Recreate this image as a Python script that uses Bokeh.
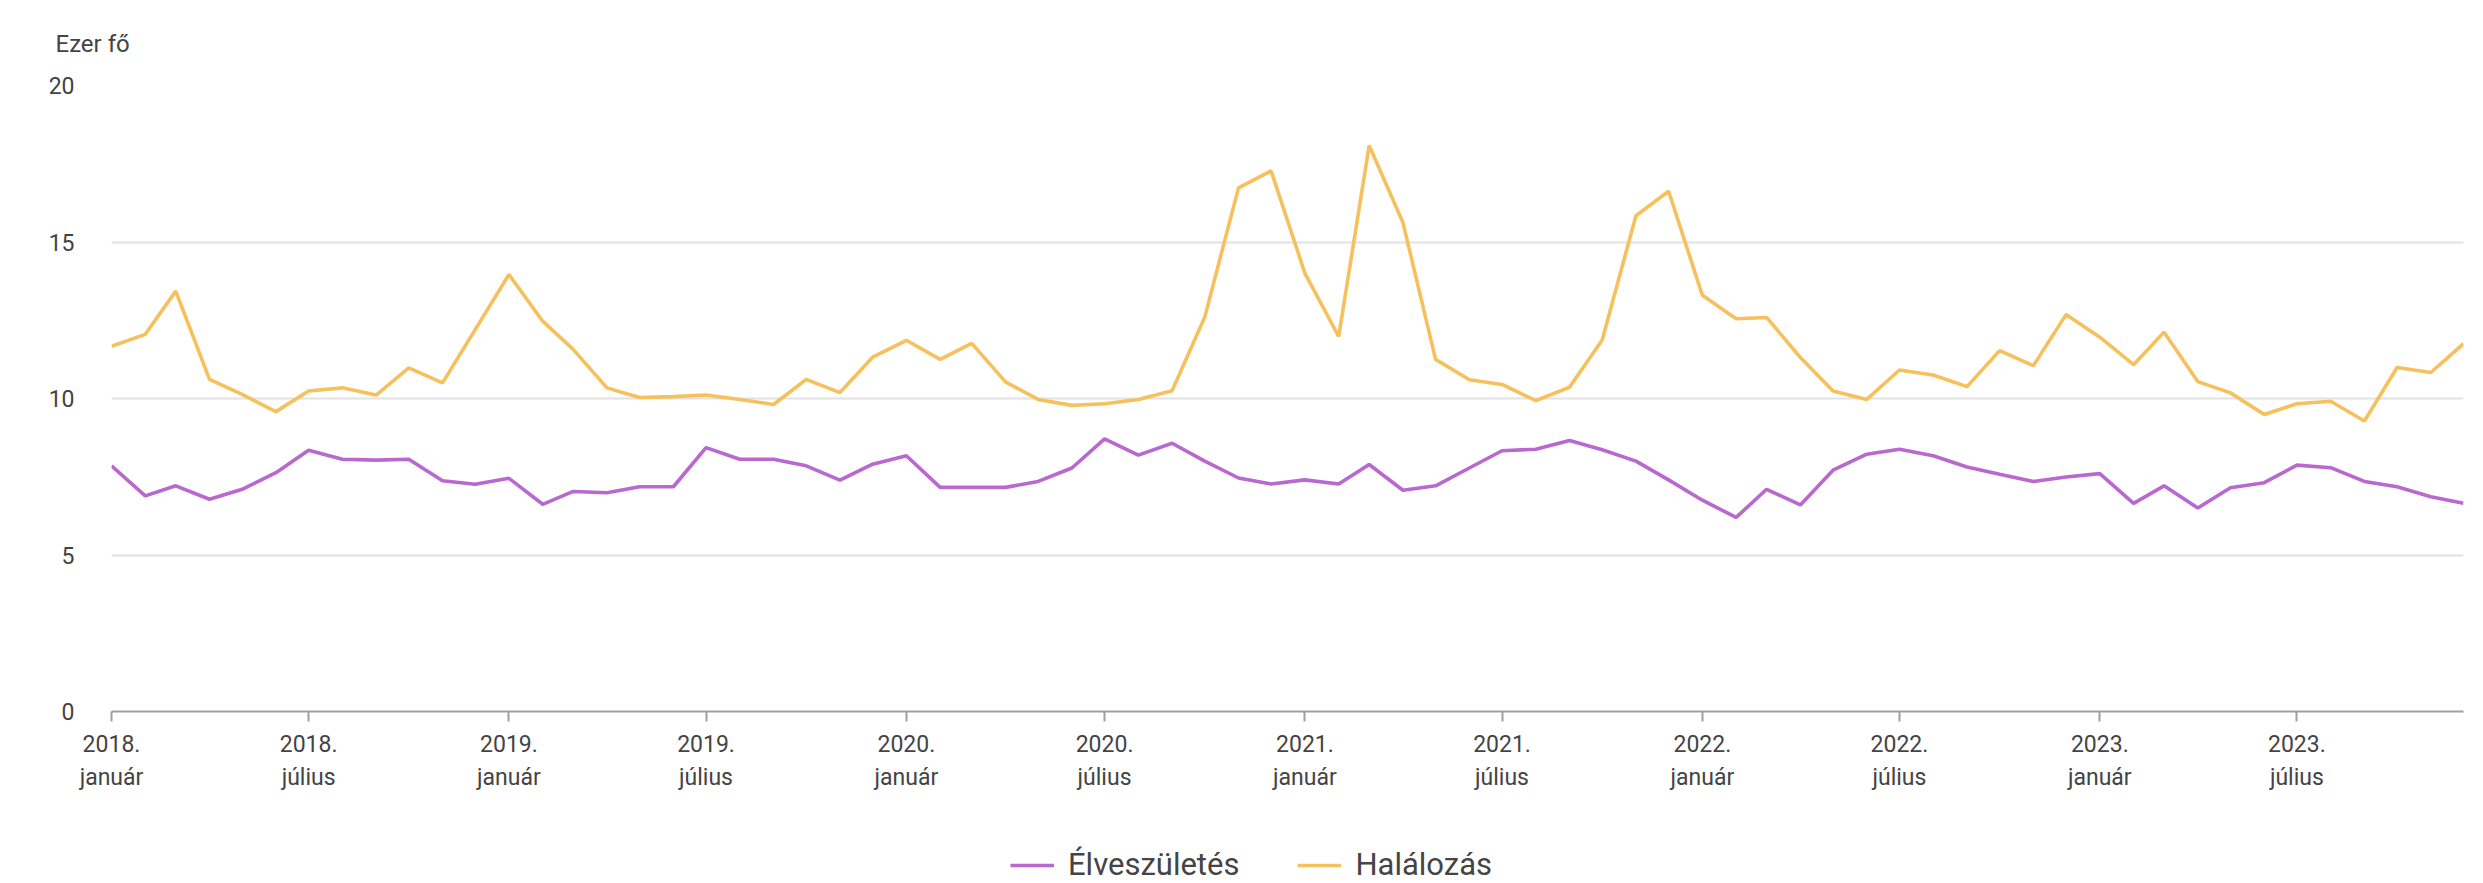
import pandas as pd
from bokeh.plotting import figure
from bokeh.layouts import column
from bokeh.models import FixedTicker, Legend, LegendItem, Range1d, Title
from bokeh.embed import file_html
from bokeh.resources import INLINE

months = pd.date_range("2018-01-01", "2023-12-01", freq="MS")

halalozas = [
    11.67, 12.05, 13.43, 10.61, 10.13, 9.58, 10.24, 10.34, 10.11, 10.98, 10.50, 12.20,
    13.96, 12.47, 11.57, 10.34, 10.03, 10.06, 10.11, 9.97, 9.81, 10.61, 10.19, 11.32,
    11.86, 11.25, 11.76, 10.53, 9.97, 9.78, 9.83, 9.97, 10.25, 12.60, 16.73, 17.27,
    14.00, 11.98, 18.08, 15.62, 11.25, 10.60, 10.45, 9.93, 10.36, 11.87, 15.84, 16.62,
    13.30, 12.55, 12.59, 11.31, 10.24, 9.97, 10.91, 10.75, 10.38, 11.53, 11.05, 12.68,
    11.96, 11.08, 12.12, 10.54, 10.18, 9.49, 9.83, 9.91, 9.28, 10.99, 10.83, 11.75,
]

elveszuletes = [
    7.85, 6.89, 7.21, 6.78, 7.10, 7.63, 8.35, 8.06, 8.03, 8.06, 7.37, 7.26,
    7.45, 6.62, 7.03, 6.99, 7.18, 7.18, 8.43, 8.06, 8.06, 7.85, 7.39, 7.90,
    8.17, 7.16, 7.16, 7.16, 7.35, 7.78, 8.71, 8.19, 8.57, 8.00, 7.46, 7.27,
    7.40, 7.27, 7.89, 7.07, 7.21, 7.78, 8.33, 8.38, 8.66, 8.36, 8.00, 7.40,
    6.75, 6.20, 7.10, 6.60, 7.71, 8.22, 8.38, 8.17, 7.81, 7.58, 7.35, 7.49,
    7.60, 6.65, 7.21, 6.50, 7.15, 7.31, 7.87, 7.79, 7.35, 7.18, 6.86, 6.65,
]

tick_dates = ["2018-01-01", "2018-07-01", "2019-01-01", "2019-07-01", "2020-01-01", "2020-07-01",
              "2021-01-01", "2021-07-01", "2022-01-01", "2022-07-01", "2023-01-01", "2023-07-01"]
tick_labels = ["2018.\njanuár", "2018.\njúlius", "2019.\njanuár", "2019.\njúlius",
               "2020.\njanuár", "2020.\njúlius", "2021.\njanuár", "2021.\njúlius",
               "2022.\njanuár", "2022.\njúlius", "2023.\njanuár", "2023.\njúlius"]
y_ticks = [0, 5, 10, 15, 20]
series_names = ["Élveszületés", "Halálozás"]

start = months[0]
x = [(m - start).days for m in months]
tick_x = [(pd.Timestamp(d) - start).days for d in tick_dates]

PURPLE = "#b968d0"
ORANGE = "#f6c15c"
FONT = "Roboto"
TXT = "#444444"
LW = 3.6

W = 2483
H_MAIN, H_LEG = 840, 43

p = figure(width=W, height=H_MAIN, output_backend="svg", toolbar_location=None,
           x_range=Range1d(x[0], x[-1]), y_range=Range1d(0, 20),
           min_border_left=111, min_border_right=20, min_border_top=84,
           min_border_bottom=H_MAIN - 711)
p.outline_line_color = None
p.background_fill_color = "white"
p.border_fill_color = "white"

p.line(x, elveszuletes, line_color=PURPLE, line_width=LW)
p.line(x, halalozas, line_color=ORANGE, line_width=LW)

# x axis
xa = p.xaxis[0]
xa.ticker = FixedTicker(ticks=tick_x)
xa.major_label_overrides = {t: l for t, l in zip(tick_x, tick_labels)}
xa.axis_line_color = "#a0a0a0"
xa.axis_line_width = 2
xa.major_tick_line_color = "#a0a0a0"
xa.major_tick_line_width = 2
xa.major_tick_in = 0
xa.major_tick_out = 10
xa.minor_tick_line_color = None
xa.major_label_standoff = 9
xa.major_label_text_font = FONT
xa.major_label_text_font_size = "23px"
xa.major_label_text_color = TXT
xa.major_label_text_line_height = 1.25

# y axis
ya = p.yaxis[0]
ya.ticker = FixedTicker(ticks=y_ticks)
ya.axis_line_color = None
ya.major_tick_line_color = None
ya.minor_tick_line_color = None
ya.major_tick_out = 0
ya.major_tick_in = 0
ya.major_label_standoff = 37
ya.major_label_text_font = FONT
ya.major_label_text_font_size = "23px"
ya.major_label_text_color = TXT

p.xgrid.grid_line_color = None
p.ygrid.grid_line_color = "#e2e2e2"
p.ygrid.grid_line_width = 2

unit = Title(text="Ezer fő", align="left", offset=-56, standoff=55,
             text_font=FONT, text_font_size="24px", text_color=TXT, text_font_style="normal")
p.add_layout(unit, "above")

# legend strip below the chart
q = figure(width=W, height=H_LEG, output_backend="svg", toolbar_location=None,
           x_range=Range1d(0, 1), y_range=Range1d(0, 1),
           x_axis_location=None, y_axis_location=None,
           min_border_left=0, min_border_right=0, min_border_top=0, min_border_bottom=0)
q.outline_line_color = None
q.grid.visible = False
q.border_fill_color = "white"
le = q.line(x, elveszuletes, line_color=PURPLE, line_width=LW, visible=False)
lh = q.line(x, halalozas, line_color=ORANGE, line_width=LW, visible=False)

legend = Legend(items=[LegendItem(label=series_names[0], renderers=[le]),
                       LegendItem(label=series_names[1], renderers=[lh])],
                location=(899, 0), orientation="horizontal",
                glyph_width=44, glyph_height=30, label_standoff=14, spacing=58,
                padding=0, margin=0, border_line_color=None, background_fill_alpha=0,
                label_text_font=FONT, label_text_font_size="31px", label_text_color=TXT)
q.add_layout(legend, "center")

layout = column(p, q, spacing=0)
open("out.html", "w").write(file_html(layout, INLINE))
